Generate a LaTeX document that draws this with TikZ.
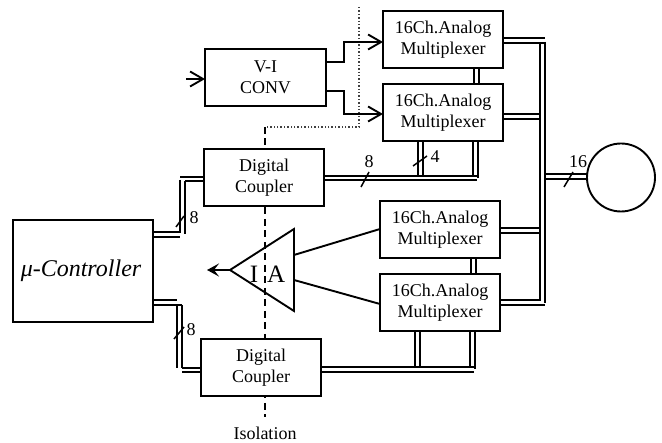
\documentclass[tikz,border=0pt]{standalone}
\usepackage{fontspec}
\setmainfont{Liberation Serif}
\usetikzlibrary{arrows.meta}
\tikzset{
  x=1pt,y=-1pt,
  box/.style={draw=black,line width=1.9pt,fill=white,inner sep=0pt,outer sep=0pt,align=center,font=\fontsize{18}{21}\selectfont},
  muxbox/.style={box,minimum width=120pt,minimum height=57pt},
  cplbox/.style={box,minimum width=120pt,minimum height=57pt},
  busline/.style={draw=black,line width=2pt},
  wire/.style={draw=black,line width=1.9pt},
  sig/.style={wire,-{Straight Barb[length=13pt,width=15pt,line width=1.9pt]}},
  tick/.style={draw=black,line width=1.5pt},
  lab/.style={inner sep=0pt,font=\fontsize{18}{21}\selectfont},
  iso/.style={draw=black,line width=1.3pt,dash pattern=on 7pt off 4.5pt},
  dotline/.style={draw=black!75,line width=1.1pt,dash pattern=on 1.4pt off 2pt},
}
\begin{document}
\begin{tikzpicture}
\useasboundingbox (0,0) rectangle (662,443);
% free ends and junctions
\coordinate (isoA) at (265,127);
\coordinate (isoB) at (265,417);
\coordinate (dotTop) at (359,7);
\coordinate (dotBend) at (359,127);
\coordinate (inV) at (186,79);
\coordinate (bendV) at (344,42);
\coordinate (rL) at (539.5,43);
\coordinate (rR) at (544.5,43);
\coordinate (rLe) at (539.5,301);
\coordinate (rRe) at (544.5,303);
\coordinate (tEnd) at (477,178);
\coordinate (bEnd) at (474,370);
\coordinate (ulL) at (179.5,180);
\coordinate (ulR) at (185,180);
\coordinate (llL) at (177,303);
\coordinate (llR) at (182,303);
\coordinate (outA) at (207,270);
% isolation lines
\draw[dotline] (dotTop) -- (dotBend) -- (isoA);
\draw[iso] (isoA) -- (isoB);
% boxes
\node[box,minimum width=121pt,minimum height=57pt] (vi) at (265.5,77.5) {V-I\\CONV};
\node[muxbox] (m1) at (443,39.5) {16Ch.Analog\\Multiplexer};
\node[muxbox] (m2) at (443,112.5) {16Ch.Analog\\Multiplexer};
\node[muxbox] (m3) at (440,229.5) {16Ch.Analog\\Multiplexer};
\node[muxbox] (m4) at (440,302.5) {16Ch.Analog\\Multiplexer};
\node[cplbox] (c1) at (264,177.5) {Digital\\Coupler};
\node[cplbox] (c2) at (261,367.5) {Digital\\Coupler};
\node[box,minimum width=140pt,minimum height=102pt,font=\fontsize{24}{28}\selectfont\itshape] (uc) at (83,271) {\hspace{-4pt}μ-Controller};
\node[draw=black,line width=1.9pt,circle,minimum size=68pt,inner sep=0pt,outer sep=0pt] (disc) at (621,177.5) {};
% instrumentation amplifier (isolation line shows through)
\draw[wire,line join=miter] (230,270) coordinate (ia) -- (294,229) coordinate (iaT) -- (294,311) coordinate (iaB) -- cycle;
\node[lab,font=\fontsize{25}{28}\selectfont] (ial) at (267.5,274) {I\hspace{9pt}A};
\draw[wire,-{Stealth[length=12pt,width=13pt,inset=5pt]}] (ia) -- (outA);
\draw[wire] (294,255) -- (m3.west |- 0,229);
\draw[wire] (294,280) -- (m4.west |- 0,304);
% V-I connections
\draw[sig] (inV) -- (vi.west |- inV);
\draw[sig] (vi.east |- 0,62) -| (bendV) -- (m1.west |- bendV);
\draw[sig] (vi.east |- 0,91) -| (bendV |- 0,114) -- (m2.west |- 0,114);
% right bus
\draw[busline] (rL) -- (rLe);
\draw[busline] (rR |- 0,42) -- (rRe);
\draw[busline] (m1.east |- 0,38) -- (rR |- 0,38);
\draw[busline] (m1.east |- 0,43) -- (rR |- 0,43);
\draw[busline] (m2.east |- 0,114) -- (rL |- 0,114);
\draw[busline] (m2.east |- 0,119) -- (rL |- 0,119);
\draw[busline] (m3.east |- 0,228) -- (rL |- 0,228);
\draw[busline] (m3.east |- 0,233) -- (rL |- 0,233);
\draw[busline] (m4.east |- 0,300) -- (rL |- 0,300);
\draw[busline] (m4.east |- 0,305) -- (rRe |- 0,305);
\draw[busline] (rR |- 0,174.5) -- (disc.west |- 0,174.5);
\draw[busline] (rR |- 0,179.5) -- (disc.west |- 0,179.5);
\draw[tick] (564,187) -- (573,172);
\node[lab] (l16) at (578,162) {16};
% mux to mux
\draw[busline] (474,68) -- (474,84);
\draw[busline] (479,68) -- (479,84);
\draw[busline] (471,258) -- (471,274);
\draw[busline] (476,258) -- (476,274);
% upper digital bus
\draw[busline] (c1.east |- 0,176) -- (tEnd |- 0,176);
\draw[busline] (c1.east |- 0,180.5) -- (tEnd |- 0,180.5);
\draw[busline] (418,141) -- (418,176);
\draw[busline] (423,141) -- (423,176);
\draw[busline] (473,141) -- (473,176);
\draw[busline] (478,141) -- (478,178);
\draw[tick] (413,166) -- (427,156);
\node[lab] (l4) at (435,157) {4};
\draw[tick] (361,187) -- (369,172);
\node[lab] (l8a) at (369,162) {8};
% lower digital bus
\draw[busline] (c2.east |- 0,367) -- (bEnd |- 0,367);
\draw[busline] (c2.east |- 0,372) -- (bEnd |- 0,372);
\draw[busline] (414.5,331) -- (414.5,367);
\draw[busline] (419.5,331) -- (419.5,367);
\draw[busline] (470,331) -- (470,367);
\draw[busline] (475,331) -- (475,369);
% left buses
\draw[busline] (c1.west |- 0,177) -- (ulL |- 0,177);
\draw[busline] (c1.west |- 0,181.5) -- (ulR |- 0,181.5);
\draw[busline] (ulL) -- (ulL |- 0,233);
\draw[busline] (ulR |- 0,181.5) -- (ulR |- 0,234);
\draw[busline] (uc.east |- 0,232) -- (ulL |- 0,232);
\draw[busline] (uc.east |- 0,237) -- (ulL |- 0,237);
\draw[tick] (176,227) -- (184,216);
\node[lab] (l8b) at (194,218) {8};
\draw[busline] (uc.east |- 0,300) -- (llL |- 0,300);
\draw[busline] (uc.east |- 0,305) -- (llR |- 0,305);
\draw[busline] (llL |- 0,305) -- (llL |- 0,368);
\draw[busline] (llR |- 0,305) -- (llR |- 0,368);
\draw[busline] (llR |- 0,368) -- (c2.west |- 0,368);
\draw[busline] (llR |- 0,372.5) -- (c2.west |- 0,372.5);
\draw[tick] (174,339) -- (184,327);
\node[lab] (l8c) at (191,330) {8};
\node[lab] (isol) at (265,433) {Isolation};
\end{tikzpicture}
\end{document}
